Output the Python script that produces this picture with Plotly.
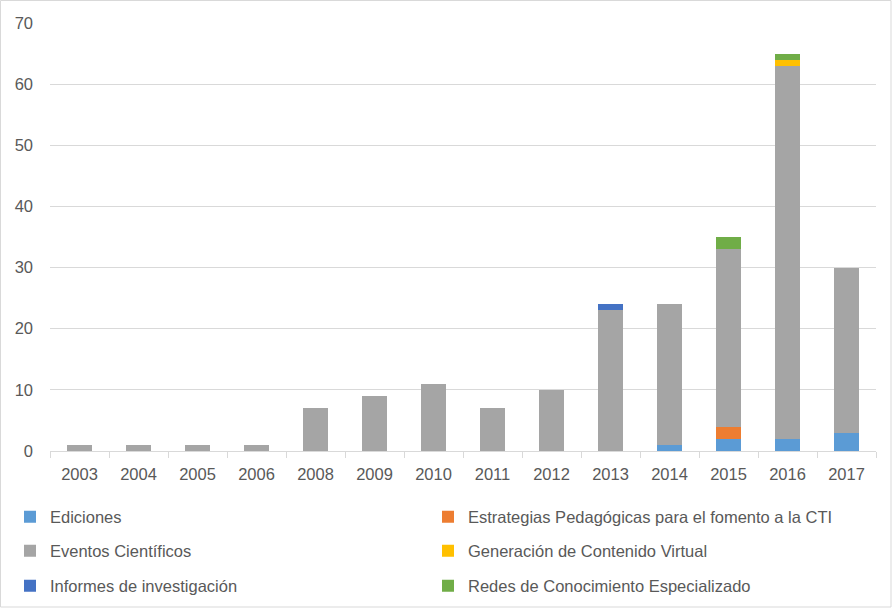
import plotly.graph_objects as go

years = ["2003", "2004", "2005", "2006", "2008", "2009", "2010", "2011", "2012",
         "2013", "2014", "2015", "2016", "2017"]
ediciones   = [0, 0, 0, 0, 0, 0, 0, 0, 0, 0, 1, 2, 2, 3]
estrategias = [0, 0, 0, 0, 0, 0, 0, 0, 0, 0, 0, 2, 0, 0]
eventos     = [1, 1, 1, 1, 7, 9, 11, 7, 10, 23, 23, 29, 61, 27]
generacion  = [0, 0, 0, 0, 0, 0, 0, 0, 0, 0, 0, 0, 1, 0]
informes    = [0, 0, 0, 0, 0, 0, 0, 0, 0, 1, 0, 0, 0, 0]
redes       = [0, 0, 0, 0, 0, 0, 0, 0, 0, 0, 0, 2, 1, 0]

series = [
    ("Ediciones", ediciones, "#5B9BD5"),
    ("Estrategias Pedagógicas para el fomento a la CTI", estrategias, "#ED7D31"),
    ("Eventos Científicos", eventos, "#A5A5A5"),
    ("Generación de Contenido Virtual", generacion, "#FFC000"),
    ("Informes de investigación", informes, "#4472C4"),
    ("Redes de Conocimiento Especializado", redes, "#70AD47"),
]

FAM = "Liberation Sans, Arial, sans-serif"
font = dict(family=FAM, size=16.5, color="#595959")
W, H = 892, 608
L, R, T, B = 50, 16, 23, 157
pw, ph = W - L - R, H - T - B

col_px = [10, 428]
row_px = [517, 551, 586]

fig = go.Figure()
legends = {}
for i, (name, vals, color) in enumerate(series):
    key = "legend" if i == 0 else f"legend{i + 1}"
    fig.add_trace(go.Bar(
        x=years, y=vals, name=name, marker=dict(color=color, line=dict(width=0)),
        legend=key,
    ))
    legends[key] = dict(
        orientation="v", font=dict(family=FAM, size=16.5, color="#595959"),
        bgcolor="rgba(0,0,0,0)", itemwidth=30, yanchor="middle", xanchor="left",
        x=(col_px[i % 2] - L) / pw, y=(451 - row_px[i // 2]) / ph,
    )

fig.update_layout(
    width=W, height=H, barmode="stack", bargap=0.59,
    margin=dict(l=L, r=R, t=T, b=B, autoexpand=False),
    paper_bgcolor="white", plot_bgcolor="white",
    font=font,
    showlegend=True,
    **legends,
    xaxis=dict(
        type="category", showgrid=False, showline=True, linecolor="#D9D9D9", linewidth=1,
        ticks="outside", tickson="boundaries", ticklen=6, tickcolor="#D9D9D9",
        tickfont=font, ticklabelstandoff=8,
    ),
    yaxis=dict(
        range=[0, 70], dtick=10, showgrid=True, gridcolor="#D9D9D9", gridwidth=1,
        zeroline=False, showline=False, ticks="", tickfont=font, ticklabelstandoff=16,
    ),
    shapes=[dict(
        type="rect", xref="paper", yref="paper",
        x0=(0.5 - L) / pw, x1=(891 - L) / pw, y0=(451 - 607) / ph, y1=(451 - 0.5) / ph,
        line=dict(color="#D9D9D9", width=1), fillcolor="rgba(0,0,0,0)", layer="below",
    )],
)

fig.write_html("out.html", config={"displayModeBar": False},
               post_script="document.body.style.margin='0';")
